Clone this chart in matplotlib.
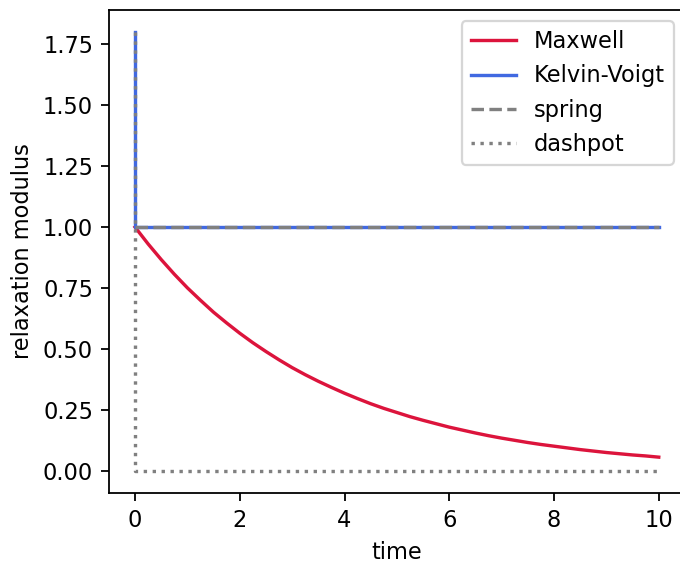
import numpy as np
import matplotlib
matplotlib.use("Agg")
import matplotlib.pyplot as plt

# values
time = [0.0, 0.25, 0.5, 0.75, 1.0, 1.25, 1.5, 1.75, 2.0, 2.25, 2.5,
        2.75, 3.0, 3.25, 3.5, 3.75, 4.0, 4.25, 4.5, 4.75, 5.0,
        5.25, 5.5, 5.75, 6.0, 6.25, 6.5, 6.75, 7.0, 7.25, 7.5,
        7.75, 8.0, 8.25, 8.5, 8.75, 9.0, 9.25, 9.5, 9.75, 10.0]
maxwell = [1.0, 0.931, 0.867, 0.807, 0.751, 0.700, 0.651, 0.607, 0.565, 0.526, 0.490,
           0.456, 0.424, 0.395, 0.368, 0.343, 0.319, 0.297, 0.276, 0.257, 0.240,
           0.223, 0.208, 0.194, 0.180, 0.168, 0.156, 0.145, 0.135, 0.126, 0.117,
           0.109, 0.102, 0.095, 0.088, 0.082, 0.076, 0.071, 0.066, 0.062, 0.057]

kv_time = [0.0, 0.0, 10.0]
kelvin_voigt = [1.8, 1.0, 1.0]

spring_time = [0.0, 10.0]
spring = [1.0, 1.0]

dashpot_time = [0.0, 0.0, 10.0]
dashpot = [1.8, 0.0, 0.0]

DPI = 162
fig = plt.figure(figsize=(681 / DPI, 563 / DPI), dpi=DPI)
ax = fig.add_axes([0.1598, 0.1243, 0.846, 0.858])

ax.plot(time, maxwell, color="crimson", label="Maxwell")
ax.plot(kv_time, kelvin_voigt, color="royalblue", label="Kelvin-Voigt")
ax.plot(spring_time, spring, color="gray", linestyle="--", label="spring")
ax.plot(dashpot_time, dashpot, color="gray", linestyle=":", label="dashpot")

ax.set_xlabel("time")
ax.set_ylabel("relaxation modulus")
ax.legend(loc="upper right")

fig.savefig("out.png", dpi=DPI)
